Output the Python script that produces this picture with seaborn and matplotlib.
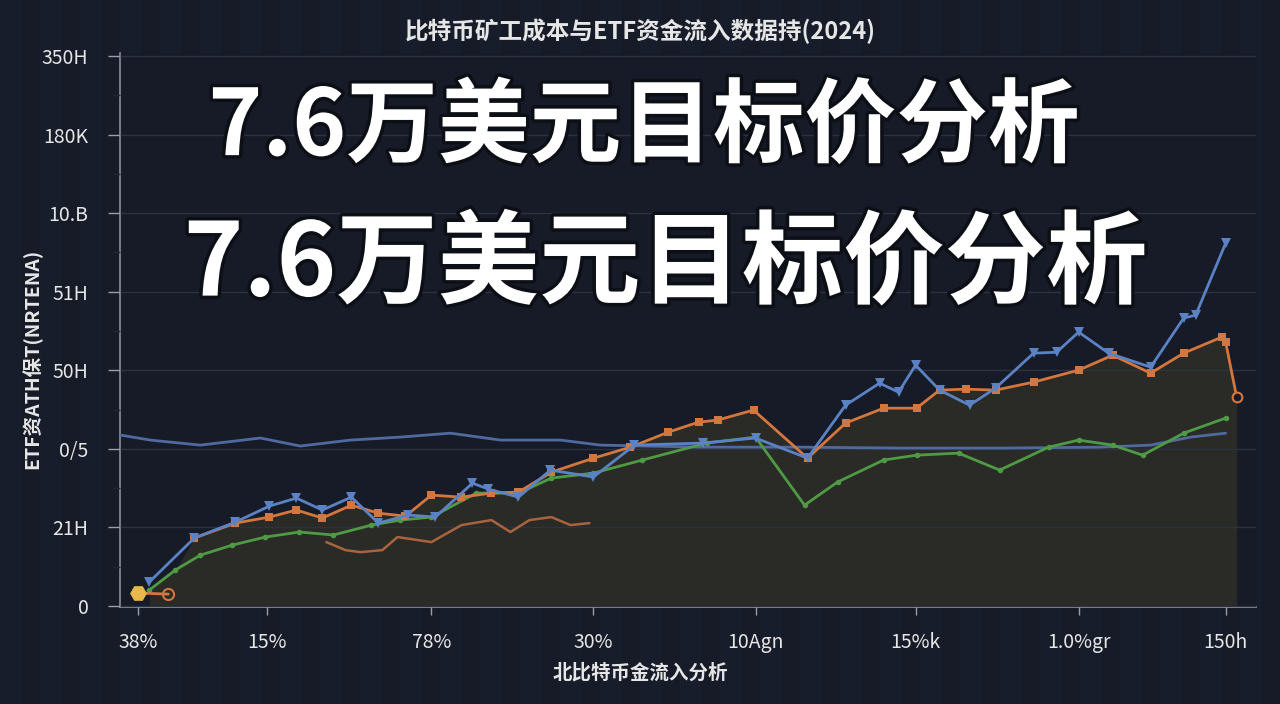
import numpy as np
import pandas as pd
import matplotlib
matplotlib.use("Agg")
import matplotlib.pyplot as plt
import matplotlib.patheffects as pe
import seaborn as sns

# ---------------- data ----------------
title = "比特币矿工成本与ETF资金流入数据持(2024)"
overlay = "7.6万美元目标价分析"
xlabel = "北比特币金流入分析"
ylabel = "ETF资ATH保T(NRTENA)"

x_tick_pos = [1.8, 14.7, 31.1, 47.3, 63.5, 79.5, 95.8, 110.5]
x_tick_labels = ["38%", "15%", "78%", "30%", "10Agn", "15%k", "1.0%gr", "150h"]
y_tick_pos = [0, 50, 100, 150, 200, 250, 300, 350]
y_tick_labels = ["0", "21H", "0/5", "50H", "51H", "10.B", "180K", "350H"]

blue_x = [2.9, 7.4, 11.5, 14.9, 17.6, 20.2, 23.1, 25.8, 28.8, 31.5, 35.2, 36.8, 39.8, 43.0, 47.3,
          51.4, 58.2, 63.5, 68.7, 72.5, 75.9, 77.8, 79.5, 81.9, 84.9, 87.5, 91.3, 93.6, 95.8, 98.8,
          103.0, 106.3, 107.5, 110.5]
blue_y = [15.3, 43.3, 53.4, 63.6, 68.7, 61.1, 69.3, 52.8, 57.9, 56.6, 78.2, 74.4, 69.3, 86.5, 82.1,
          102.4, 103.7, 106.9, 94.1, 127.8, 141.8, 136.1, 153.3, 137.4, 127.8, 138.7, 160.9, 161.5, 174.3, 160.9,
          152.0, 183.2, 185.1, 230.9]

orange_x = [7.4, 11.5, 14.9, 17.6, 20.2, 23.1, 25.8, 28.5, 31.1, 34.1, 37.1, 39.8, 43.1, 47.3, 51.0,
            54.8, 57.8, 59.7, 63.3, 68.7, 72.5, 76.3, 79.6, 81.9, 84.5, 87.5, 91.3, 95.8, 99.2, 103.0,
            106.3, 110.1, 110.5, 111.6]
orange_y = [43.3, 52.8, 56.6, 61.1, 56.0, 64.2, 59.1, 57.2, 70.6, 69.3, 71.9, 72.5, 85.2, 94.1, 101.1,
            110.7, 117.0, 118.3, 124.7, 94.1, 116.4, 125.9, 125.9, 137.4, 138.0, 137.4, 142.5, 150.1, 159.6, 148.2,
            160.9, 171.1, 167.9, 132.9]

green_x = [2.9, 5.5, 8.0, 11.2, 14.5, 17.9, 21.3, 25.1, 28.0, 31.1, 35.6, 39.8, 43.1, 47.3, 52.2,
           58.6, 63.5, 68.4, 71.7, 76.3, 79.6, 83.8, 87.9, 92.8, 95.8, 99.2, 102.2, 106.3, 110.5]
green_y = [10.2, 22.9, 32.4, 38.8, 43.9, 47.1, 45.2, 51.5, 54.7, 56.6, 71.9, 71.9, 81.4, 84.6, 92.9,
           103.7, 107.5, 64.2, 78.9, 92.9, 96.0, 97.3, 86.5, 101.1, 105.6, 102.4, 96.0, 110.0, 119.6]

flat_x = [0, 3, 8, 14, 18, 23, 28, 33, 38, 44, 48, 58, 68, 78, 88, 98, 103, 107, 110.5]
flat_y = [108.8, 105.6, 102.4, 106.9, 101.8, 105.6, 107.5, 110.0, 105.6, 105.6, 102.4, 101.1, 101.1,
          100.5, 100.5, 101.1, 102.4, 107.5, 110.0]

brown_x = [20.6, 22.5, 24.0, 26.2, 27.7, 31.1, 34.1, 37.1, 39.0, 40.9, 43.1, 45.0, 46.9]
brown_y = [40.7, 35.6, 34.3, 35.6, 43.9, 40.7, 51.5, 54.7, 47.1, 54.7, 56.6, 51.5, 52.8]

start_x = [1.8, 4.8]
start_y = [8.3, 7.6]

# ---------------- style ----------------
BG = "#161b27"
FG = "#e6e6e6"
sns.set_theme(style="dark")
plt.rcParams["font.family"] = ["Noto Sans CJK SC", "DejaVu Sans"]
plt.rcParams["axes.unicode_minus"] = False

fig = plt.figure(figsize=(12.8, 7.04), dpi=100, facecolor=BG)
ax = fig.add_axes([0.094, 0.138, 0.887, 0.787])
ax.set_facecolor(BG)

# faint background stripes
for i in range(0, 1280, 40):
    fig.patches.append(plt.Rectangle((i / 1280, 0), 20 / 1280, 1, transform=fig.transFigure,
                                     color="#1b2030", alpha=0.5, zorder=-10))

# area under the upper envelope (green start, then orange)
fill_x = [v for v in green_x if v < orange_x[0]] + orange_x
fill_y = [g for v, g in zip(green_x, green_y) if v < orange_x[0]] + orange_y
ax.fill_between(fill_x, 0, fill_y, color="#2a2a26", alpha=1.0, lw=0, zorder=1)

df_flat = pd.DataFrame({"x": flat_x, "y": flat_y})
sns.lineplot(data=df_flat, x="x", y="y", ax=ax, color="#4f6a9e", lw=2.0, zorder=3)

df_green = pd.DataFrame({"x": green_x, "y": green_y})
sns.lineplot(data=df_green, x="x", y="y", ax=ax, color="#4f9a45", lw=2.0, marker="o",
             markersize=4, markeredgewidth=0, zorder=3)

df_brown = pd.DataFrame({"x": brown_x, "y": brown_y})
sns.lineplot(data=df_brown, x="x", y="y", ax=ax, color="#a8643e", lw=1.8, zorder=3)

df_orange = pd.DataFrame({"x": orange_x, "y": orange_y})
sns.lineplot(data=df_orange, x="x", y="y", ax=ax, color="#d4773f", lw=2.0, marker="s",
             markersize=6, markeredgewidth=0, zorder=4)

df_blue = pd.DataFrame({"x": blue_x, "y": blue_y})
sns.lineplot(data=df_blue, x="x", y="y", ax=ax, color="#5b82c4", lw=2.0, marker="v",
             markersize=7, markeredgewidth=0, zorder=5)

# start markers
ax.plot(start_x, start_y, color="#d4773f", lw=2.0, zorder=5)
ax.plot(start_x[0], start_y[0], marker="H", color="#e8b84a", markersize=11, zorder=6)
ax.plot(start_x[1], start_y[1], marker="o", mfc="none", mec="#d4773f", mew=1.5, markersize=8, zorder=6)
ax.plot(orange_x[-1], orange_y[-1], marker="o", mfc=BG, mec="#d4773f", mew=1.5, markersize=7, zorder=6)

# axes styling
ax.set_xlim(0, 113.5)
ax.set_ylim(-0.5, 352)
ax.set_xticks(x_tick_pos)
ax.set_xticklabels(x_tick_labels)
ax.set_yticks(y_tick_pos)
ax.set_yticklabels(y_tick_labels)
ax.set_yticks([25, 75, 125, 175, 225, 275, 325], minor=True)
ax.tick_params(axis="both", colors="#9aa0aa", labelcolor=FG, labelsize=14)
ax.tick_params(axis="y", which="major", length=9, width=1, direction="out", left=True, pad=14)
ax.tick_params(axis="y", which="minor", length=5, width=1, direction="out", left=True)
ax.tick_params(axis="x", which="major", length=6, width=1, direction="out", bottom=True, pad=12)
ax.set_axisbelow(False)
ax.grid(axis="y", color="#2c3242", lw=1, zorder=2)
ax.grid(axis="x", visible=False)
for s in ["top", "right"]:
    ax.spines[s].set_visible(False)
for s in ["left", "bottom"]:
    ax.spines[s].set_visible(True)
    ax.spines[s].set_color("#8a909a")
    ax.spines[s].set_linewidth(1.2)
ax.set_xlabel("")
ax.set_ylabel("")

fig.text(0.5, 0.955, title, ha="center", va="center", color=FG, fontsize=17, fontweight="bold")
fig.text(0.5, 0.045, xlabel, ha="center", va="center", color=FG, fontsize=14, fontweight="bold")
fig.text(0.025, 0.49, ylabel, ha="center", va="center", color=FG, fontsize=14,
         fontweight="bold", rotation=90)

stroke = [pe.withStroke(linewidth=5, foreground="#0d0f16")]
fig.text(0.503, 0.818, overlay, ha="center", va="center", color="white", fontsize=66,
         fontweight="bold", path_effects=stroke)
fig.text(0.52, 0.622, overlay, ha="center", va="center", color="white", fontsize=73,
         fontweight="bold", path_effects=stroke)

fig.savefig("out.png", dpi=100, facecolor=BG)
